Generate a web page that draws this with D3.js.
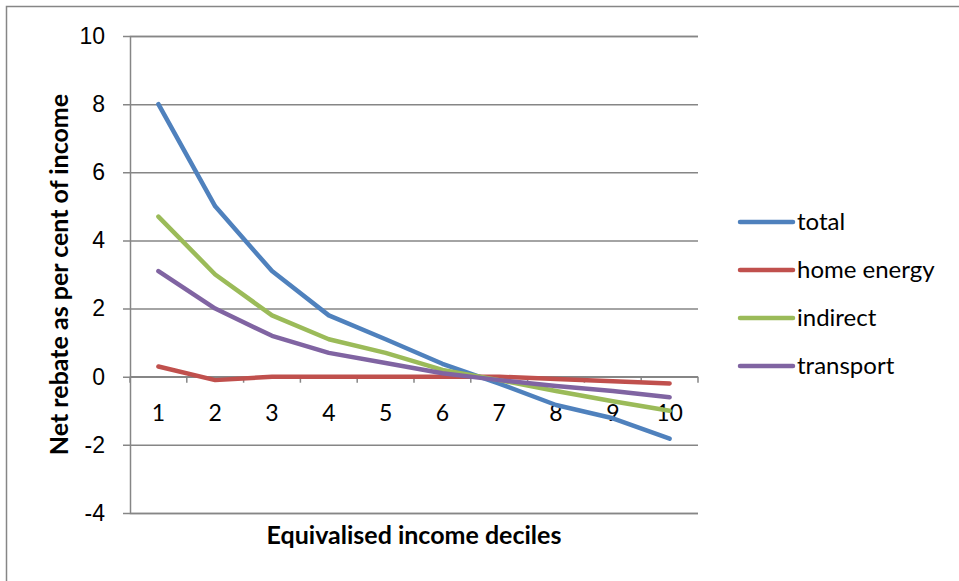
<!DOCTYPE html>
<html>
<head>
<meta charset="utf-8">
<script src="https://cdn.jsdelivr.net/npm/d3@7/dist/d3.min.js"></script>
<style>
  html, body { margin: 0; padding: 0; background: #fff; }
  svg { display: block; font-family: Lato, "Open Sans", sans-serif; }
</style>
</head>
<body>
<svg id="chart" width="959" height="581"></svg>
<script>
// Income deciles on the category axis
const deciles = ["1", "2", "3", "4", "5", "6", "7", "8", "9", "10"];

// Net rebate as per cent of income, by decile
const total      = [8.0, 5.0, 3.1, 1.8, 1.1, 0.38, -0.2, -0.83, -1.22, -1.82];
const homeEnergy = [0.3, -0.1, 0.0, 0.0, 0.0, 0.0, 0.0, -0.07, -0.13, -0.2];
const indirect   = [4.7, 3.0, 1.8, 1.1, 0.7, 0.2, -0.1, -0.42, -0.72, -1.0];
const transport  = [3.1, 2.0, 1.2, 0.7, 0.4, 0.1, -0.1, -0.27, -0.42, -0.6];

const seriesNames = ["total", "home energy", "indirect", "transport"];
const seriesValues = [total, homeEnergy, indirect, transport];
const seriesColors = ["#4F81BD", "#C0504D", "#9BBB59", "#8064A2"];

const yTicks = [-4, -2, 0, 2, 4, 6, 8, 10];

const svg = d3.select("#chart");
const plot = { left: 130, right: 698, top: 36, bottom: 513 };
const gridColor = "#868686";

// Outer chart frame
svg.append("rect")
  .attr("x", 6.5).attr("y", 6.5)
  .attr("width", 1000).attr("height", 1000)
  .attr("fill", "none").attr("stroke", gridColor).attr("stroke-width", 1.5);

const x = d3.scaleBand().domain(deciles).range([plot.left, plot.right]);
const y = d3.scaleLinear().domain([-4, 10]).range([plot.bottom, plot.top]);

// Horizontal gridlines with short ticks on the left
const yAxis = d3.axisLeft(y)
  .tickValues(yTicks)
  .tickSize(-(plot.right - plot.left))
  .tickFormat(d => String(d));

const gy = svg.append("g")
  .attr("transform", `translate(${plot.left},0)`)
  .call(yAxis);
gy.select(".domain").attr("stroke", gridColor).attr("stroke-width", 1.5);
gy.selectAll(".tick line")
  .attr("x1", -7)
  .attr("stroke", gridColor).attr("stroke-width", 1.5);
gy.selectAll(".tick text")
  .attr("x", -25)
  .attr("fill", "#000")
  .style("font-size", "23px");

// Category axis sitting on zero, with ticks between categories
const gx = svg.append("g")
  .attr("transform", `translate(0,${y(0)})`);
gx.append("line")
  .attr("x1", plot.left).attr("x2", plot.right)
  .attr("stroke", gridColor).attr("stroke-width", 1.5);
const boundaries = deciles.map(d => x(d)).concat([plot.right]);
gx.selectAll("line.cat-tick").data(boundaries).join("line")
  .attr("class", "cat-tick")
  .attr("x1", d => d).attr("x2", d => d)
  .attr("y1", 0).attr("y2", 6)
  .attr("stroke", gridColor).attr("stroke-width", 1.5);
gx.selectAll("text").data(deciles).join("text")
  .attr("x", d => x(d) + x.bandwidth() / 2)
  .attr("y", 44)
  .attr("text-anchor", "middle")
  .attr("fill", "#000")
  .style("font-size", "23px")
  .text(d => d);

// Series lines
const line = d3.line()
  .x((v, i) => x(deciles[i]) + x.bandwidth() / 2)
  .y(v => y(v));

svg.append("g").selectAll("path").data(seriesValues).join("path")
  .attr("d", d => line(d))
  .attr("fill", "none")
  .attr("stroke", (d, i) => seriesColors[i])
  .attr("stroke-width", 4.5)
  .attr("stroke-linecap", "round")
  .attr("stroke-linejoin", "round");

// Axis titles
svg.append("text")
  .attr("x", (plot.left + plot.right) / 2)
  .attr("y", 544)
  .attr("text-anchor", "middle")
  .attr("font-weight", "bold")
  .style("font-size", "25px")
  .text("Equivalised income deciles");

svg.append("text")
  .attr("transform", `translate(68,${(plot.top + plot.bottom) / 2}) rotate(-90)`)
  .attr("text-anchor", "middle")
  .attr("font-weight", "bold")
  .style("font-size", "25px")
  .text("Net rebate as per cent of income");

// Legend
const legend = svg.append("g").attr("transform", "translate(740,222)");
const rows = legend.selectAll("g").data(seriesNames).join("g")
  .attr("transform", (d, i) => `translate(0,${i * 48})`);
rows.append("line")
  .attr("x1", 0).attr("x2", 53)
  .attr("stroke", (d, i) => seriesColors[i])
  .attr("stroke-width", 4.5)
  .attr("stroke-linecap", "round");
rows.append("text")
  .attr("x", 57).attr("y", 0)
  .attr("dy", "0.35em")
  .style("font-size", "24px")
  .attr("fill", "#000")
  .text(d => d);
</script>
</body>
</html>
